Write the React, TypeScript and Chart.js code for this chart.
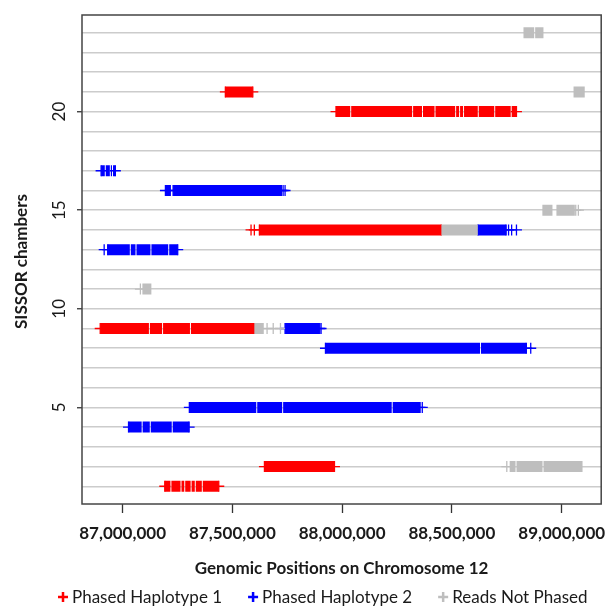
import React, { useEffect, useRef } from "react";
import { Chart, registerables } from "chart.js";

Chart.register(...registerables);

// ---------- data (positions in kb on chromosome 12) ----------
const xTickValues = [87000000, 87500000, 88000000, 88500000, 89000000];
const xMin = 86815000;
const xMax = 89180000;
const chamberRows = Array.from({ length: 24 }, (_, i) => i + 1);
const yTickLabels = [5, 10, 15, 20];
const yMin = 0.1;
const yMax = 24.9;
const xTitle = "Genomic Positions on Chromosome 12";
const yTitle = "SISSOR chambers";
const seriesNames = ["Phased Haplotype 1", "Phased Haplotype 2", "Reads Not Phased"];
const seriesColors = ["#FF0000", "#0000FF", "#BEBEBE"];

// [chamber, [start, internal block boundaries..., end]]
const haplotype1Runs: [number, number[]][] = [
  [1, [87192, 87220, 87266, 87283, 87312, 87331, 87363, 87438]],
  [2, [87646, 87965]],
  [9, [86898, 87122, 87182, 87309, 87600]],
  [14, [87623, 88452]],
  [20, [87972, 88039, 88321, 88366, 88423, 88517, 88535, 88553, 88620, 88695, 88770, 88794]],
  [21, [87468, 87593]],
];
const haplotype1ExtraMarks: [number, number][] = [
  [14, 87585],
  [14, 87600],
];

const haplotype2Runs: [number, number[]][] = [
  [4, [87027, 87089, 87126, 87226, 87303]],
  [5, [87304, 87611, 87729, 88228, 88355]],
  [8, [87924, 88630, 88839]],
  [9, [87740, 87898]],
  [13, [86932, 87035, 87061, 87129, 87210, 87251]],
  [14, [88618, 88747]],
  [16, [87195, 87217]],
  [16, [87230, 87723]],
  [17, [86902, 86921, 86944, 86954, 86967]],
];
const haplotype2ExtraMarks: [number, number][] = [
  [5, 88365],
  [8, 88859],
  [9, 87904],
  [13, 86916],
  [14, 88758],
  [14, 88772],
  [14, 88794],
  [16, 87731],
  [16, 87740],
];

const unphasedRuns: [number, number[]][] = [
  [2, [88763, 88792, 88915, 89095]],
  [9, [87600, 87643]],
  [11, [87090, 87131]],
  [14, [88452, 88618]],
  [15, [88912, 88958]],
  [15, [88976, 89060]],
  [21, [89054, 89105]],
  [24, [88826, 88877, 88917]],
];
const unphasedExtraMarks: [number, number][] = [
  [2, 88750],
  [9, 87658],
  [9, 87686],
  [9, 87719],
  [11, 87081],
  [15, 89064],
  [15, 89076],
];

// ---------- helpers ----------
const KB = 1000;
const GAP_KB = 2.2;
const FONT = 'Lato, "Open Sans", sans-serif';

function runsToLine(runs: [number, number[]][]) {
  const pts: { x: number; y: number | null }[] = [];
  runs.forEach(([row, stops]) => {
    for (let i = 0; i < stops.length - 1; i++) {
      const a = (stops[i] + (i > 0 ? GAP_KB : 0)) * KB;
      const b = (stops[i + 1] - (i + 1 < stops.length - 1 ? GAP_KB : 0)) * KB;
      pts.push({ x: a, y: row }, { x: b, y: row }, { x: b, y: null });
    }
  });
  return pts;
}

function runsToMarks(runs: [number, number[]][], extra: [number, number][], withEnds: boolean) {
  const pts: { x: number; y: number }[] = [];
  if (withEnds) {
    runs.forEach(([row, stops]) => {
      pts.push({ x: stops[0] * KB, y: row }, { x: stops[stops.length - 1] * KB, y: row });
    });
  }
  extra.forEach(([row, pos]) => pts.push({ x: pos * KB, y: row }));
  return pts;
}

const decorPlugin = {
  id: "decor",
  afterDraw(chart: any) {
    const { ctx, chartArea } = chart;
    const { left, right, top, bottom } = chartArea;
    const yScale = chart.scales.y;
    ctx.save();
    // frame
    ctx.strokeStyle = "#444444";
    ctx.lineWidth = 1.5;
    ctx.strokeRect(left, top, right - left, bottom - top);

    // y tick labels (rotated, R style)
    ctx.fillStyle = "#1a1a1a";
    ctx.font = `17px ${FONT}`;
    ctx.textAlign = "center";
    ctx.textBaseline = "alphabetic";
    yTickLabels.forEach((v) => {
      const y = yScale.getPixelForValue(v);
      ctx.save();
      ctx.translate(65, y);
      ctx.rotate(-Math.PI / 2);
      ctx.fillText(String(v), 0, 0);
      ctx.restore();
    });

    // y title
    ctx.font = `bold 17px ${FONT}`;
    ctx.textBaseline = "middle";
    ctx.save();
    ctx.translate(22, (top + bottom) / 2 + 2);
    ctx.rotate(-Math.PI / 2);
    ctx.fillText(yTitle, 0, 0);
    ctx.restore();

    // x title
    ctx.fillText(xTitle, (left + right) / 2, 569);

    // legend
    ctx.font = `17px ${FONT}`;
    ctx.textAlign = "left";
    let x = 58;
    const ly = 597;
    seriesNames.forEach((name, i) => {
      ctx.strokeStyle = seriesColors[i];
      ctx.lineWidth = 2.5;
      ctx.beginPath();
      ctx.moveTo(x, ly);
      ctx.lineTo(x + 10, ly);
      ctx.moveTo(x + 5, ly - 5);
      ctx.lineTo(x + 5, ly + 5);
      ctx.stroke();
      ctx.fillStyle = "#1a1a1a";
      ctx.fillText(name, x + 14, ly + 1);
      x += 14 + ctx.measureText(name).width + 26;
    });
    ctx.restore();
  },
};

export default function App() {
  const canvasRef = useRef<HTMLCanvasElement | null>(null);

  useEffect(() => {
    document.body.style.margin = "0";
    const canvas = canvasRef.current;
    if (!canvas) return;

    const runSets = [haplotype1Runs, haplotype2Runs, unphasedRuns];
    const extraSets = [haplotype1ExtraMarks, haplotype2ExtraMarks, unphasedExtraMarks];
    const drawOrder = [2, 0, 1];

    const barDatasets = drawOrder.map((i) => ({
      label: seriesNames[i],
      data: runsToLine(runSets[i]),
      showLine: true,
      borderColor: seriesColors[i],
      backgroundColor: seriesColors[i],
      borderWidth: 11,
      borderCapStyle: "butt",
      pointRadius: 0,
      pointHoverRadius: 0,
      spanGaps: false,
      tension: 0,
      fill: false,
    }));
    const markDatasets = drawOrder.map((i) => ({
      label: seriesNames[i] + " marks",
      data: runsToMarks(runSets[i], extraSets[i], i !== 2),
      showLine: false,
      pointStyle: "cross",
      pointRadius: 5.5,
      pointHoverRadius: 5.5,
      borderColor: seriesColors[i],
      backgroundColor: seriesColors[i],
      pointBorderWidth: 1.3,
    }));

    const chart = new Chart(canvas, {
      type: "scatter",
      data: { datasets: [...barDatasets, ...markDatasets] as any },
      plugins: [decorPlugin],
      options: {
        animation: false,
        responsive: false,
        events: [],
        layout: { padding: { top: 15, right: 1, left: 0, bottom: 0 } },
        plugins: { legend: { display: false }, tooltip: { enabled: false } },
        scales: {
          x: {
            type: "linear",
            min: xMin,
            max: xMax,
            afterBuildTicks: (s: any) => {
              s.ticks = xTickValues.map((v) => ({ value: v }));
            },
            afterFit: (s: any) => {
              s.height = 105;
              s.paddingLeft = 0;
              s.paddingRight = 0;
            },
            border: { display: false },
            grid: {
              drawOnChartArea: false,
              drawTicks: true,
              tickLength: 9,
              tickColor: "#333333",
              tickWidth: 1.3,
            },
            ticks: {
              autoSkip: false,
              maxRotation: 0,
              padding: 10,
              color: "#1a1a1a",
              font: { family: FONT, size: 17, weight: "bold" },
              callback: (v: any) => Number(v).toLocaleString("en-US"),
            },
          },
          y: {
            type: "linear",
            min: yMin,
            max: yMax,
            afterBuildTicks: (s: any) => {
              s.ticks = chamberRows.map((v) => ({ value: v }));
            },
            afterFit: (s: any) => {
              s.width = 82;
              s.paddingTop = 0;
              s.paddingBottom = 0;
            },
            border: { display: false },
            ticks: { display: false },
            grid: {
              color: "#CCCCCC",
              lineWidth: 1.5,
              drawTicks: true,
              tickLength: 5,
              tickWidth: 1.3,
              tickColor: (ctx: any) =>
                ctx.tick && yTickLabels.includes(ctx.tick.value) ? "#333333" : "rgba(0,0,0,0)",
            },
          },
        },
      } as any,
    });

    return () => chart.destroy();
  }, []);

  return (
    <div style={{ width: 608, height: 609 }}>
      <canvas ref={canvasRef} width={608} height={609} style={{ display: "block" }} />
    </div>
  );
}
